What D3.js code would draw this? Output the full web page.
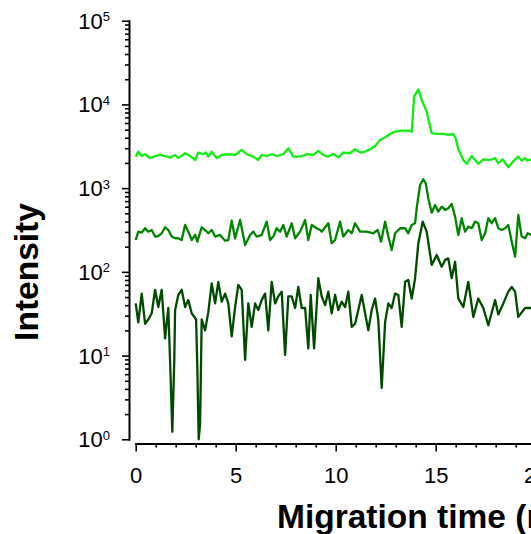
<!DOCTYPE html>
<html lang="en">
<head>
<meta charset="UTF-8">
<title>Migration time vs intensity</title>
<script src="https://d3js.org/d3.v7.min.js"></script>
<style>
  body { margin: 0; overflow: hidden; background: #fff; }
  text { font-family: Arial, "Liberation Sans", sans-serif; }
</style>
</head>
<body>
<svg id="chart" width="700" height="534"></svg>
<script>
// top trace (bright green)
const timeBright = [0, 0.13, 0.3, 0.47, 0.72, 0.97, 1.22, 1.47, 1.72, 1.97, 2.13, 2.47, 2.72, 2.97, 3.13, 3.38, 3.52, 3.63, 3.8, 4.05,
  4.3, 4.63, 4.97, 5.3, 5.55, 5.88, 6.13, 6.3, 6.55, 6.8, 7.05, 7.38, 7.63, 7.88, 8.22, 8.55, 8.88, 9.13, 9.38, 9.63,
  9.88, 10.13, 10.38, 10.72, 10.97, 11.22, 11.47, 11.72, 11.97, 12.22, 12.47, 12.72, 12.97, 13.3, 13.63, 13.8, 13.92, 14.13, 14.3, 14.55,
  14.8, 15.05, 15.38, 15.63, 15.88, 16.0, 16.13, 16.38, 16.55, 16.8, 16.97, 17.13, 17.38, 17.63, 17.8, 17.97, 18.13, 18.35, 18.63, 18.88,
  19.13, 19.3, 19.47, 19.58, 19.8];
const intensityBright = [2380, 2730, 2420, 2540, 2280, 2420, 2490, 2420, 2310, 2490, 2280, 2610, 2420, 2170, 2660, 2540, 2660, 2380, 2730, 2280,
  2490, 2540, 2490, 2860, 2540, 2380, 2170, 2490, 2420, 2540, 2420, 2540, 3000, 2380, 2380, 2540, 2490, 2790, 2490, 2380,
  2570, 2330, 2660, 2610, 2920, 2660, 2730, 2920, 3190, 3770, 4060, 4440, 4730, 4870, 4870, 4730, 12400, 15100, 11300, 8200,
  4530, 4440, 4440, 4320, 4440, 3950, 2920, 2170, 1950, 2420, 2170, 1950, 2200, 2170, 2200, 2280, 1990, 2200, 1780, 2100,
  2380, 2130, 2280, 2130, 2200];

// middle trace (green)
const timeMid = [0, 0.13, 0.3, 0.47, 0.63, 0.8, 0.97, 1.13, 1.3, 1.47, 1.63, 1.8, 1.97, 2.13, 2.3, 2.47, 2.63, 2.8, 2.97, 3.08,
  3.3, 3.47, 3.63, 3.8, 3.97, 4.22, 4.47, 4.63, 4.8, 4.97, 5.22, 5.47, 5.72, 5.88, 6.05, 6.3, 6.55, 6.72, 6.88, 7.05,
  7.22, 7.38, 7.55, 7.8, 7.97, 8.22, 8.47, 8.63, 8.8, 9.05, 9.22, 9.3, 9.63, 9.8, 9.97, 10.22, 10.38, 10.63, 10.8, 10.97,
  11.22, 11.55, 11.88, 12.1, 12.27, 12.47, 12.63, 12.8, 12.97, 13.22, 13.47, 13.63, 13.8, 13.97, 14.05, 14.22, 14.38, 14.5, 14.63, 14.8,
  14.97, 15.13, 15.3, 15.47, 15.63, 15.8, 15.97, 16.13, 16.3, 16.47, 16.63, 16.8, 16.97, 17.13, 17.3, 17.47, 17.63, 17.8, 17.97, 18.13,
  18.3, 18.47, 18.63, 18.8, 18.97, 19.13, 19.3, 19.47, 19.6, 19.8];
const intensityMid = [240, 302, 294, 332, 302, 316, 264, 268, 289, 341, 316, 264, 252, 252, 240, 363, 302, 240, 276, 230,
  341, 316, 289, 316, 264, 276, 236, 240, 409, 252, 417, 209, 276, 302, 264, 276, 398, 240, 264, 332,
  302, 363, 264, 381, 252, 302, 417, 240, 363, 332, 316, 302, 381, 220, 240, 398, 264, 316, 289, 381,
  302, 302, 289, 316, 230, 398, 264, 182, 289, 332, 332, 289, 363, 381, 575, 1092, 1277, 1145, 757, 509,
  630, 524, 601, 549, 575, 647, 457, 276, 437, 302, 347, 332, 398, 381, 240, 289, 437, 381, 437, 332,
  316, 332, 363, 230, 152, 478, 264, 252, 289, 276];

// bottom trace (dark green)
const timeDark = [0, 0.13, 0.3, 0.47, 0.63, 0.8, 0.97, 1.13, 1.3, 1.47, 1.55, 1.63, 1.75, 1.83, 1.93, 1.97, 2.13, 2.3, 2.47, 2.63,
  2.8, 3.02, 3.08, 3.15, 3.22, 3.3, 3.47, 3.63, 3.8, 3.97, 4.13, 4.3, 4.47, 4.63, 4.8, 4.97, 5.13, 5.3, 5.47, 5.63,
  5.8, 5.97, 6.13, 6.3, 6.47, 6.63, 6.8, 6.97, 7.13, 7.3, 7.47, 7.63, 7.8, 7.97, 8.13, 8.3, 8.47, 8.63, 8.75, 8.92,
  9.13, 9.3, 9.47, 9.63, 9.8, 9.97, 10.13, 10.3, 10.47, 10.63, 10.8, 10.97, 11.13, 11.3, 11.47, 11.63, 11.8, 11.97, 12.13, 12.3,
  12.47, 12.63, 12.8, 12.97, 13.13, 13.3, 13.47, 13.63, 13.8, 13.97, 14.13, 14.35, 14.55, 14.8, 15.05, 15.3, 15.47, 15.63, 15.8, 15.97,
  16.13, 16.38, 16.63, 16.88, 17.13, 17.38, 17.63, 17.97, 18.13, 18.38, 18.63, 18.8, 18.97, 19.13, 19.47, 19.8];
const intensityDark = [42, 25, 55, 24, 27, 32, 61, 38, 61, 16, 25, 37, 5.1, 1.23, 8.9, 35, 53, 61, 38, 46,
  32, 27, 7.4, 1.0, 1.55, 27, 20, 33, 73, 42, 76, 44, 55, 42, 17, 38, 70, 61, 8.9, 42,
  22, 42, 35, 46, 55, 20, 76, 42, 51, 58, 10.2, 51, 51, 37, 66, 37, 37, 12.2, 53, 12.2,
  84, 51, 40, 58, 32, 53, 35, 44, 38, 58, 22, 24, 35, 53, 32, 20, 35, 48, 27, 4.1,
  25, 42, 37, 55, 53, 22, 76, 80, 48, 84, 218, 398, 302, 121, 159, 115, 139, 145, 84, 132,
  48, 38, 76, 29, 48, 37, 23, 46, 31, 42, 58, 66, 58, 29, 37, 37];

const xMajorTicks = [0, 5, 10, 15, 20, 25];
const decades = [0, 1, 2, 3, 4, 5];

const series = [
  { t: timeDark, v: intensityDark, color: '#004a00' },
  { t: timeMid, v: intensityMid, color: '#008400' },
  { t: timeBright, v: intensityBright, color: '#11ee11' }
];

const svg = d3.select('#chart');

const x = d3.scaleLinear().domain([0, 25]).range([135.7, 635.7]);
const y = d3.scaleLog().domain([1, 1e5]).range([439.3, 20.7]);

// minor tick positions for the log axis (2..9 in each decade)
const yMinor = [];
decades.slice(0, -1).forEach(d => {
  for (let k = 2; k <= 9; k++) yMinor.push(k * Math.pow(10, d));
});
const xMinor = d3.range(0, 26).filter(v => v % 5 !== 0);

// x axis
const xAxisY = 443.5;
svg.append('g')
  .attr('transform', `translate(0,${xAxisY})`)
  .call(d3.axisBottom(x).tickValues(xMinor).tickSize(4).tickSizeOuter(0).tickFormat(''))
  .call(g => g.select('.domain').remove());
svg.append('g')
  .attr('transform', `translate(0,${xAxisY})`)
  .call(d3.axisBottom(x).tickValues(xMajorTicks).tickSize(8).tickSizeOuter(0).tickPadding(15.5))
  .call(g => g.selectAll('text').attr('font-size', 22).attr('font-family', 'Arial, "Liberation Sans", sans-serif'));

// y axis
const yAxisX = 129;
svg.append('g')
  .attr('transform', `translate(${yAxisX},0)`)
  .call(d3.axisLeft(y).tickValues(yMinor).tickSize(4).tickSizeOuter(0).tickFormat(''))
  .call(g => g.select('.domain').remove());
svg.append('g')
  .attr('transform', `translate(${yAxisX},0)`)
  .call(d3.axisLeft(y).tickValues(decades.map(d => Math.pow(10, d))).tickSize(7).tickSizeOuter(0).tickFormat(''));

svg.selectAll('.domain').attr('stroke-width', 2).attr('stroke-linecap', 'square');
svg.selectAll('.tick line').attr('stroke-width', 1.6);

// y tick labels with superscript exponents
const yLabels = svg.append('g');
decades.forEach(d => {
  const t = yLabels.append('text')
    .attr('x', 110)
    .attr('y', y(Math.pow(10, d)) + 8)
    .attr('text-anchor', 'end')
    .attr('font-size', 22)
    .text('10');
  t.append('tspan')
    .attr('font-size', 13)
    .attr('dy', -7.6)
    .text(d);
});

// traces
const line = d3.line()
  .x(d => x(d[0]))
  .y(d => y(d[1]));

series.forEach(s => {
  svg.append('path')
    .datum(s.t.map((t, i) => [t, s.v[i]]))
    .attr('fill', 'none')
    .attr('stroke', s.color)
    .attr('stroke-width', 2.3)
    .attr('stroke-linejoin', 'round')
    .attr('d', line);
});

// axis titles
svg.append('text')
  .attr('x', 277)
  .attr('y', 528)
  .attr('font-size', 33.5)
  .attr('font-weight', 'bold')
  .text('Migration time (min)');

svg.append('text')
  .attr('transform', 'translate(37.5,272) rotate(-90)')
  .attr('text-anchor', 'middle')
  .attr('font-size', 33.5)
  .attr('font-weight', 'bold')
  .text('Intensity');
</script>
</body>
</html>
